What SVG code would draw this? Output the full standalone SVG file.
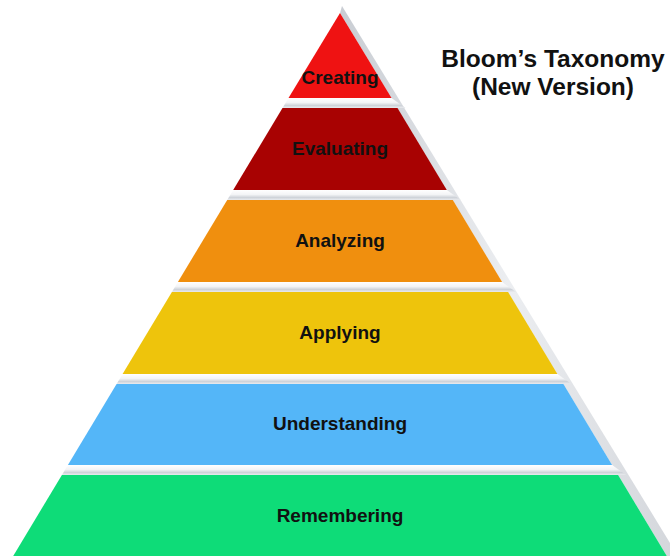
<svg xmlns="http://www.w3.org/2000/svg" width="670" height="556" viewBox="0 0 670 556">
  <defs>
    <linearGradient id="gap" x1="0" y1="0" x2="0" y2="1">
      <stop offset="0" stop-color="#ffffff"/>
      <stop offset="0.45" stop-color="#f3f4f6"/>
      <stop offset="0.75" stop-color="#cfd3d9"/>
      <stop offset="1" stop-color="#e9ebee"/>
    </linearGradient>
    <linearGradient id="bevel" x1="0" y1="0" x2="1" y2="0">
      <stop offset="0" stop-color="#c9cdd3"/>
      <stop offset="0.5" stop-color="#eceef1"/>
      <stop offset="1" stop-color="#d3d6db"/>
    </linearGradient>
  </defs>
  <style>
    .lbl { font-family: "Liberation Sans", Arial, sans-serif; font-weight: bold; font-size: 19px; fill: #111111; text-anchor: middle; }
    .title { font-family: "Liberation Sans", Arial, sans-serif; font-weight: bold; font-size: 24.5px; fill: #111111; text-anchor: middle; }
  </style>
  <rect width="670" height="556" fill="#ffffff"/>

  <g id="frame">
    <polygon points="342,6 678,556 666.8,556 340,13" fill="url(#bevel)"/>
    <polygon points="288.5,98 391.5,98 405.5,108 282.5,108" fill="url(#gap)"/>
    <polygon points="233.2,190 446.8,190 460.8,200 227.2,200" fill="url(#gap)"/>
    <polygon points="177.9,282 502.1,282 516.1,292 171.9,292" fill="url(#gap)"/>
    <polygon points="122.6,374 557.4,374 571.4,384 116.6,384" fill="url(#gap)"/>
    <polygon points="67.9,465 612.1,465 626.1,475 61.9,475" fill="url(#gap)"/>
  </g>

  <g id="creating">
    <polygon points="340,13 391.5,98 288.5,98" fill="#ef1212"/>
    <text class="lbl" x="340" y="84">Creating</text>
  </g>
  <g id="evaluating">
    <polygon points="282.5,108 397.5,108 446.8,190 233.2,190" fill="#a80202"/>
    <text class="lbl" x="340" y="155">Evaluating</text>
  </g>
  <g id="analyzing">
    <polygon points="227.2,200 452.8,200 502.1,282 177.9,282" fill="#f08f0e"/>
    <text class="lbl" x="340" y="247">Analyzing</text>
  </g>
  <g id="applying">
    <polygon points="171.9,292 508.1,292 557.4,374 122.6,374" fill="#eec40c"/>
    <text class="lbl" x="340" y="339">Applying</text>
  </g>
  <g id="understanding">
    <polygon points="116.6,384 563.4,384 612.1,465 67.9,465" fill="#54b6f8"/>
    <text class="lbl" x="340" y="430">Understanding</text>
  </g>
  <g id="remembering">
    <polygon points="61.9,475 618.1,475 666.8,556 13.2,556" fill="#0edc78"/>
    <text class="lbl" x="340" y="522">Remembering</text>
  </g>

  <g id="title">
    <text class="title" x="553" y="67">Bloom’s Taxonomy</text>
    <text class="title" x="553" y="95">(New Version)</text>
  </g>
</svg>
